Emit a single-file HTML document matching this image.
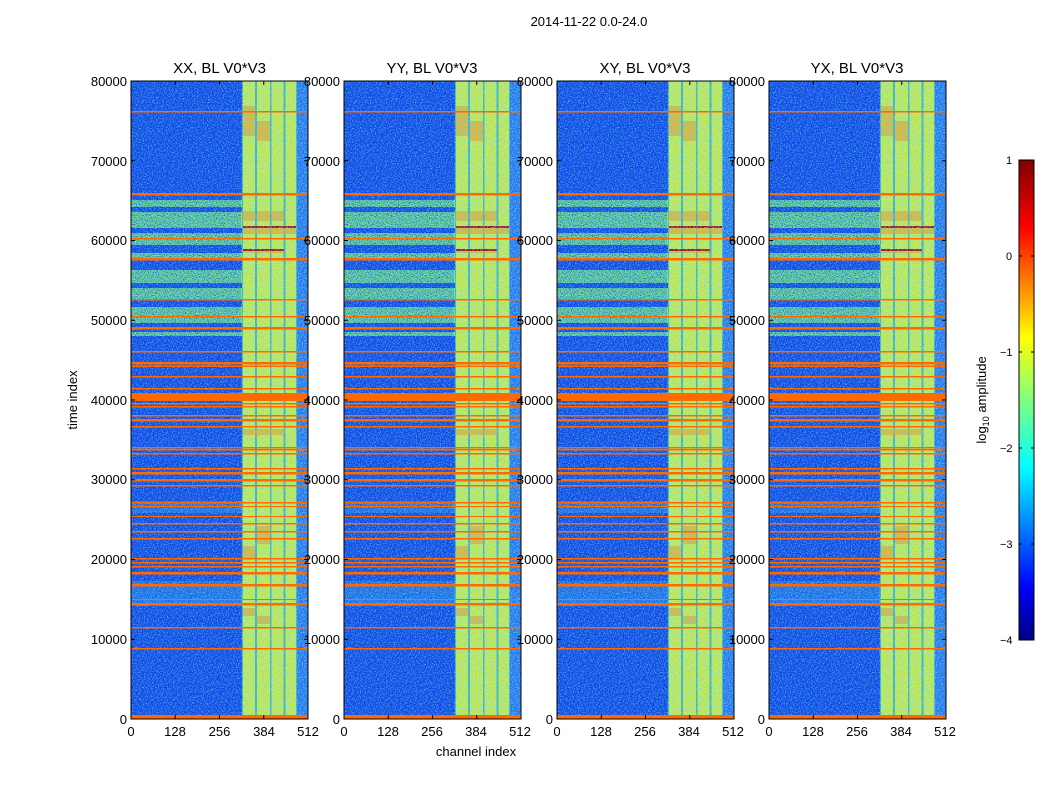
<!DOCTYPE html>
<html><head><meta charset="utf-8"><style>
body{margin:0;background:#fff;}
svg text{font-family:"Liberation Sans",sans-serif;font-size:13px;fill:#000;}
</style></head><body>
<svg width="1050" height="800" viewBox="0 0 1050 800" xmlns="http://www.w3.org/2000/svg">
<defs>
<filter id="nz" x="0" y="0" width="100%" height="100%">
<feTurbulence type="fractalNoise" baseFrequency="0.8" numOctaves="1" seed="3"/>
<feColorMatrix type="matrix" values="0 0 0 0 0.1  0 0 0 0 0.7  0 0 0 0 1  2.4 0 0 0 -1.0"/>
</filter>
<filter id="nz2" x="0" y="0" width="100%" height="100%">
<feTurbulence type="fractalNoise" baseFrequency="0.9" numOctaves="1" seed="7"/>
<feColorMatrix type="matrix" values="0 0 0 0 0  0 0 0 0 0.05  0 0 0 0 0.75  2.4 0 0 0 -1.0"/>
</filter>
<linearGradient id="jet" x1="0" y1="1" x2="0" y2="0">
<stop offset="0" stop-color="#00007f"/><stop offset="0.11" stop-color="#0000ff"/>
<stop offset="0.36" stop-color="#00ffff"/><stop offset="0.5" stop-color="#7fff7f"/>
<stop offset="0.63" stop-color="#ffff00"/><stop offset="0.86" stop-color="#ff0000"/>
<stop offset="1" stop-color="#7f0000"/></linearGradient>
<g id="p">
<rect x="0" y="0" width="177" height="638" fill="#1a48e2"/>
<g fill="#7ee47e">
<rect x="0" y="119" width="177" height="7"/><rect x="0" y="131" width="177" height="16"/>
<rect x="0" y="152" width="177" height="12"/><rect x="0" y="172" width="177" height="5"/>
<rect x="0" y="189" width="177" height="13"/><rect x="0" y="207" width="177" height="12"/>
<rect x="0" y="226" width="177" height="16"/><rect x="0" y="251" width="177" height="4"/>
</g>
<g fill="#3d9fe8" opacity="0.6">
<rect x="0" y="420" width="112" height="12"/><rect x="0" y="500" width="112" height="25"/>
</g>
<rect x="165" y="0" width="12" height="638" fill="#2a70ea"/>
<rect x="111" y="0" width="55" height="638" fill="#3fb0c0"/>
<g fill="#d2ea44">
<rect x="112" y="0" width="12" height="638"/><rect x="126" y="0" width="13" height="638"/>
<rect x="140.5" y="0" width="12" height="638"/><rect x="154.5" y="0" width="10.5" height="638"/>
</g>
<g fill="#f2a020" opacity="0.7">
<rect x="112" y="25" width="12" height="30"/><rect x="126" y="40" width="13" height="20"/>
<rect x="112" y="130" width="12" height="10"/><rect x="126" y="130" width="13" height="10"/><rect x="140.5" y="130" width="12" height="10"/>
<rect x="112" y="145" width="53" height="8"/><rect x="112" y="168" width="41" height="4"/>
<rect x="112" y="348" width="41" height="6"/><rect x="126" y="445" width="13" height="18"/>
<rect x="112" y="465" width="12" height="12"/><rect x="112" y="527" width="12" height="8"/><rect x="126" y="535" width="13" height="8"/>
</g>
<g fill="#b00000"><rect x="112" y="145" width="53" height="2"/><rect x="112" y="168" width="41" height="2"/></g>
<rect x="0" y="0" width="177" height="638" filter="url(#nz)"/>
<rect x="0" y="0" width="110" height="638" filter="url(#nz2)"/>
<g fill="#ff6a00">
<rect x="0" y="30" width="177" height="1.5"/><rect x="0" y="112" width="177" height="2.5"/>
<rect x="0" y="157" width="177" height="1.5"/><rect x="0" y="177" width="177" height="2.5"/>
<rect x="0" y="218" width="177" height="1.5"/><rect x="0" y="235" width="177" height="1.5"/>
<rect x="0" y="246" width="177" height="2.5"/><rect x="0" y="270" width="177" height="1.5"/>
<rect x="0" y="281" width="177" height="2.5"/><rect x="0" y="284.5" width="177" height="1.5"/>
<rect x="0" y="295" width="177" height="1.5"/><rect x="0" y="307" width="177" height="1.5"/>
<rect x="0" y="312" width="177" height="8"/><rect x="0" y="322" width="177" height="1.5"/>
<rect x="0" y="325" width="177" height="1.5"/><rect x="0" y="334" width="177" height="1.5"/>
<rect x="0" y="338" width="177" height="2.5"/><rect x="0" y="345" width="177" height="1.5"/>
<rect x="0" y="366" width="177" height="1.5"/><rect x="0" y="368" width="177" height="1.5"/>
<rect x="0" y="372" width="177" height="1.5"/><rect x="0" y="387" width="177" height="1.5"/>
<rect x="0" y="391" width="177" height="2.5"/><rect x="0" y="398" width="177" height="2.5"/>
<rect x="0" y="404" width="177" height="1.5"/><rect x="0" y="421" width="177" height="1.5"/>
<rect x="0" y="425" width="177" height="1"/><rect x="0" y="435" width="177" height="1"/>
<rect x="0" y="442" width="177" height="1.5"/><rect x="0" y="450" width="177" height="1.5"/>
<rect x="0" y="457" width="177" height="1.5"/><rect x="0" y="477" width="177" height="1.5"/>
<rect x="0" y="481" width="177" height="1.5"/><rect x="0" y="485" width="177" height="1.5"/>
<rect x="0" y="491" width="177" height="2.5"/><rect x="0" y="503" width="177" height="2.5"/>
<rect x="0" y="518" width="177" height="1"/><rect x="0" y="522" width="177" height="2.5"/>
<rect x="0" y="546" width="177" height="1.5"/><rect x="0" y="567" width="177" height="1.5"/>
<rect x="0" y="634" width="177" height="4"/>
</g>
<rect x="0" y="0" width="177" height="638" fill="none" stroke="#000" stroke-width="1"/>
<g stroke="#000" stroke-width="1">
<path d="M0 558.25h4M0 478.5h4M0 398.75h4M0 319h4M0 239.25h4M0 159.5h4M0 79.75h4"/>
<path d="M177 558.25h-4M177 478.5h-4M177 398.75h-4M177 319h-4M177 239.25h-4M177 159.5h-4M177 79.75h-4"/>
<path d="M44.25 638v-4M88.5 638v-4M132.75 638v-4M44.25 0v4M88.5 0v4M132.75 0v4"/>
</g>
</g>
</defs>
<text x="589" y="26" text-anchor="middle">2014-11-22 0.0-24.0</text>
<use href="#p" x="131" y="81"/>
<use href="#p" x="344" y="81"/>
<use href="#p" x="557" y="81"/>
<use href="#p" x="769" y="81"/>
<g style="font-size:15px">
<text x="219.5" y="73" text-anchor="middle" style="font-size:15px">XX, BL V0*V3</text>
<text x="432" y="73" text-anchor="middle" style="font-size:15px">YY, BL V0*V3</text>
<text x="645" y="73" text-anchor="middle" style="font-size:15px">XY, BL V0*V3</text>
<text x="857" y="73" text-anchor="middle" style="font-size:15px">YX, BL V0*V3</text>
</g>
<g text-anchor="end">
<text x="127" y="86">80000</text><text x="127" y="166">70000</text><text x="127" y="245">60000</text><text x="127" y="325">50000</text><text x="127" y="405">40000</text><text x="127" y="484">30000</text><text x="127" y="564">20000</text><text x="127" y="644">10000</text><text x="127" y="724">0</text>
<text x="340" y="86">80000</text><text x="340" y="166">70000</text><text x="340" y="245">60000</text><text x="340" y="325">50000</text><text x="340" y="405">40000</text><text x="340" y="484">30000</text><text x="340" y="564">20000</text><text x="340" y="644">10000</text><text x="340" y="724">0</text>
<text x="553" y="86">80000</text><text x="553" y="166">70000</text><text x="553" y="245">60000</text><text x="553" y="325">50000</text><text x="553" y="405">40000</text><text x="553" y="484">30000</text><text x="553" y="564">20000</text><text x="553" y="644">10000</text><text x="553" y="724">0</text>
<text x="765" y="86">80000</text><text x="765" y="166">70000</text><text x="765" y="245">60000</text><text x="765" y="325">50000</text><text x="765" y="405">40000</text><text x="765" y="484">30000</text><text x="765" y="564">20000</text><text x="765" y="644">10000</text><text x="765" y="724">0</text>
</g>
<g text-anchor="middle">
<text x="131" y="736">0</text><text x="175" y="736">128</text><text x="219.5" y="736">256</text><text x="264" y="736">384</text><text x="308" y="736">512</text>
<text x="344" y="736">0</text><text x="388" y="736">128</text><text x="432" y="736">256</text><text x="476" y="736">384</text><text x="520" y="736">512</text>
<text x="557" y="736">0</text><text x="601" y="736">128</text><text x="645" y="736">256</text><text x="689" y="736">384</text><text x="733" y="736">512</text>
<text x="769" y="736">0</text><text x="813" y="736">128</text><text x="857" y="736">256</text><text x="901" y="736">384</text><text x="945" y="736">512</text>
</g>
<text x="476" y="756" text-anchor="middle">channel index</text>
<text transform="translate(77 400) rotate(-90)" text-anchor="middle">time index</text>
<rect x="1019" y="160" width="15" height="480" fill="url(#jet)" stroke="#000" stroke-width="1"/>
<g stroke="#000"><path d="M1019 256h3M1019 352h3M1019 448h3M1019 544h3M1034 256h-3M1034 352h-3M1034 448h-3M1034 544h-3"/></g>
<g style="font-size:11px">
<text x="1006" y="164" style="font-size:11px">1</text><text x="1006" y="260" style="font-size:11px">0</text>
<text x="1000" y="356" style="font-size:11px">−1</text><text x="1000" y="452" style="font-size:11px">−2</text>
<text x="1000" y="548" style="font-size:11px">−3</text><text x="1000" y="644" style="font-size:11px">−4</text>
</g>
<text transform="translate(986 400) rotate(-90)" text-anchor="middle">log<tspan style="font-size:9px" dy="3">10</tspan><tspan dy="-3"> amplitude</tspan></text>
</svg>
</body></html>
